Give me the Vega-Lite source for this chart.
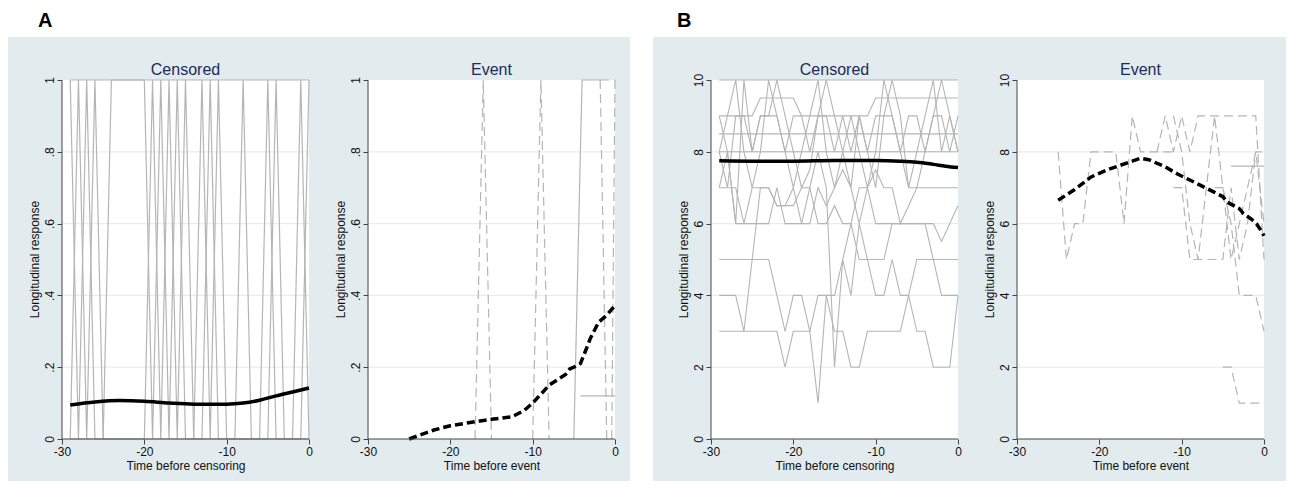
{
"$schema":"https://vega.github.io/schema/vega-lite/v6.json",
"background":"white",
"padding":{"left":8,"top":11,"right":0,"bottom":0},
"spacing":23,
"datasets":{
"a_cens":[
{"id":"s1","t":-29,"y":1},{"id":"s1","t":-28,"y":0},{"id":"s1","t":-27,"y":1},{"id":"s1","t":-26,"y":0},{"id":"s1","t":-25,"y":0},{"id":"s1","t":-24,"y":1},{"id":"s1","t":-23,"y":1},{"id":"s1","t":-22,"y":1},{"id":"s1","t":-21,"y":1},{"id":"s1","t":-20,"y":1},{"id":"s1","t":-19,"y":0},{"id":"s1","t":-18,"y":1},{"id":"s1","t":-17,"y":0},{"id":"s1","t":-16,"y":1},{"id":"s1","t":-15,"y":0},{"id":"s1","t":-14,"y":0},{"id":"s1","t":-13,"y":1},{"id":"s1","t":-12,"y":0},{"id":"s1","t":-11,"y":1},{"id":"s1","t":-10,"y":0},{"id":"s1","t":-9,"y":0},{"id":"s1","t":-8,"y":1},{"id":"s1","t":-7,"y":0},{"id":"s1","t":-6,"y":0},{"id":"s1","t":-5,"y":1},{"id":"s1","t":-4,"y":0},{"id":"s1","t":-3,"y":0},{"id":"s1","t":-2,"y":0},{"id":"s1","t":-1,"y":1},{"id":"s1","t":0,"y":0},
{"id":"s2","t":-29,"y":0},{"id":"s2","t":-28,"y":1},{"id":"s2","t":-27,"y":0},{"id":"s2","t":-26,"y":1},{"id":"s2","t":-25,"y":0},{"id":"s2","t":-24,"y":0},{"id":"s2","t":-23,"y":0},{"id":"s2","t":-22,"y":0},{"id":"s2","t":-21,"y":0},{"id":"s2","t":-20,"y":0},{"id":"s2","t":-19,"y":1},{"id":"s2","t":-18,"y":0},{"id":"s2","t":-17,"y":1},{"id":"s2","t":-16,"y":0},{"id":"s2","t":-15,"y":1},{"id":"s2","t":-14,"y":0},{"id":"s2","t":-13,"y":0},{"id":"s2","t":-12,"y":1},{"id":"s2","t":-11,"y":0},{"id":"s2","t":-10,"y":0},{"id":"s2","t":-9,"y":0},{"id":"s2","t":-8,"y":0},{"id":"s2","t":-7,"y":0},{"id":"s2","t":-6,"y":0},{"id":"s2","t":-5,"y":0},{"id":"s2","t":-4,"y":1},{"id":"s2","t":-3,"y":0},{"id":"s2","t":-2,"y":0},{"id":"s2","t":-1,"y":0},{"id":"s2","t":0,"y":1},
{"id":"s3","t":-29,"y":1},{"id":"s3","t":0,"y":1},
{"id":"s4","t":-29,"y":0},{"id":"s4","t":0,"y":0}
],
"a_cens_mean":[
{"t":-29,"y":0.095},{"t":-26,"y":0.103},{"t":-23,"y":0.107},{"t":-20,"y":0.105},{"t":-17,"y":0.1},{"t":-14,"y":0.097},{"t":-10,"y":0.097},{"t":-8,"y":0.1},{"t":-6,"y":0.108},{"t":-4,"y":0.12},{"t":-2,"y":0.131},{"t":0,"y":0.142}
],
"a_event":[
{"id":"e1","grp":"2","t":-17,"y":0},{"id":"e1","grp":"2","t":-16,"y":1},{"id":"e1","grp":"2","t":-15,"y":0},
{"id":"e2","grp":"2","t":-10,"y":0},{"id":"e2","grp":"2","t":-9,"y":1},{"id":"e2","grp":"2","t":-8,"y":0},
{"id":"e3","grp":"1","t":-5,"y":0},{"id":"e3","grp":"1","t":-4,"y":1},{"id":"e3","grp":"1","t":-1.8,"y":1},
{"id":"e4","grp":"2","t":-1.8,"y":1},{"id":"e4","grp":"2","t":-1,"y":0},
{"id":"e5","grp":"2","t":-1.8,"y":1},{"id":"e5","grp":"2","t":0,"y":1},
{"id":"e6","grp":"2","t":-0.4,"y":0},{"id":"e6","grp":"2","t":0,"y":1},
{"id":"e7","grp":"1","t":-4.2,"y":0.12},{"id":"e7","grp":"1","t":0,"y":0.12}
],
"a_event_mean":[
{"t":-25,"y":0},{"t":-22,"y":0.025},{"t":-20,"y":0.037},{"t":-17,"y":0.048},{"t":-15,"y":0.055},{"t":-12.5,"y":0.062},{"t":-11,"y":0.08},{"t":-10,"y":0.1},{"t":-9,"y":0.125},{"t":-8,"y":0.15},{"t":-7,"y":0.165},{"t":-6,"y":0.18},{"t":-5.5,"y":0.195},{"t":-5,"y":0.2},{"t":-4.2,"y":0.21},{"t":-3.5,"y":0.25},{"t":-3,"y":0.28},{"t":-2,"y":0.325},{"t":-1,"y":0.345},{"t":0,"y":0.372}
],
"b_cens":[
{"id":"u1","t":-29,"y":10},{"id":"u1","t":0,"y":10},
{"id":"u2","t":-29,"y":8.5},{"id":"u2","t":0,"y":8.5},
{"id":"u3","t":-29,"y":8},{"id":"u3","t":0,"y":8},
{"id":"u4","t":-29,"y":9},{"id":"u4","t":-25,"y":9},{"id":"u4","t":-24,"y":9.5},{"id":"u4","t":-20,"y":9.5},{"id":"u4","t":-19,"y":9},{"id":"u4","t":-11,"y":9},{"id":"u4","t":-10,"y":9.5},{"id":"u4","t":0,"y":9.5},
{"id":"z1","t":-29,"y":8},{"id":"z1","t":-28,"y":9},{"id":"z1","t":-27,"y":10},{"id":"z1","t":-26,"y":8},{"id":"z1","t":-25,"y":7},{"id":"z1","t":-24,"y":8},{"id":"z1","t":-23,"y":10},{"id":"z1","t":-22,"y":9},{"id":"z1","t":-21,"y":8},{"id":"z1","t":-20,"y":7},{"id":"z1","t":-19,"y":8},{"id":"z1","t":-18,"y":9},{"id":"z1","t":-17,"y":10},{"id":"z1","t":-16,"y":8},{"id":"z1","t":-15,"y":7},{"id":"z1","t":-14,"y":8},{"id":"z1","t":-13,"y":9},{"id":"z1","t":-12,"y":8},{"id":"z1","t":-11,"y":7},{"id":"z1","t":-10,"y":8},{"id":"z1","t":-9,"y":10},{"id":"z1","t":-8,"y":9},{"id":"z1","t":-7,"y":8},{"id":"z1","t":-6,"y":7},{"id":"z1","t":-5,"y":8},{"id":"z1","t":-4,"y":9},{"id":"z1","t":-3,"y":10},{"id":"z1","t":-2,"y":8},{"id":"z1","t":-1,"y":9},{"id":"z1","t":0,"y":8},
{"id":"z2","t":-29,"y":9},{"id":"z2","t":-28,"y":8},{"id":"z2","t":-27,"y":6},{"id":"z2","t":-26,"y":10},{"id":"z2","t":-25,"y":8},{"id":"z2","t":-24,"y":9},{"id":"z2","t":-23,"y":9},{"id":"z2","t":-22,"y":10},{"id":"z2","t":-21,"y":9},{"id":"z2","t":-20,"y":8},{"id":"z2","t":-19,"y":7},{"id":"z2","t":-18,"y":7.5},{"id":"z2","t":-17,"y":9},{"id":"z2","t":-16,"y":10},{"id":"z2","t":-15,"y":9},{"id":"z2","t":-14,"y":8},{"id":"z2","t":-13,"y":7},{"id":"z2","t":-12,"y":9},{"id":"z2","t":-11,"y":8},{"id":"z2","t":-10,"y":7},{"id":"z2","t":-9,"y":9},{"id":"z2","t":-8,"y":10},{"id":"z2","t":-7,"y":9},{"id":"z2","t":-6,"y":7},{"id":"z2","t":-5,"y":7},{"id":"z2","t":-4,"y":8},{"id":"z2","t":-3,"y":9},{"id":"z2","t":-2,"y":10},{"id":"z2","t":-1,"y":9},{"id":"z2","t":0,"y":8},
{"id":"z3","t":-29,"y":7},{"id":"z3","t":-28,"y":7},{"id":"z3","t":-27,"y":7},{"id":"z3","t":-26,"y":6},{"id":"z3","t":-25,"y":7},{"id":"z3","t":-24,"y":7},{"id":"z3","t":-23,"y":7},{"id":"z3","t":-22,"y":6.5},{"id":"z3","t":-21,"y":6.5},{"id":"z3","t":-20,"y":7},{"id":"z3","t":-19,"y":6},{"id":"z3","t":-18,"y":6},{"id":"z3","t":-17,"y":7},{"id":"z3","t":-16,"y":6.5},{"id":"z3","t":-15,"y":7},{"id":"z3","t":-14,"y":7.5},{"id":"z3","t":-13,"y":7},{"id":"z3","t":-12,"y":6},{"id":"z3","t":-11,"y":7},{"id":"z3","t":-10,"y":7.5},{"id":"z3","t":-9,"y":7},{"id":"z3","t":-8,"y":7},{"id":"z3","t":-7,"y":6},{"id":"z3","t":-6,"y":6.5},{"id":"z3","t":-5,"y":7},{"id":"z3","t":-4,"y":7},{"id":"z3","t":-3,"y":7},{"id":"z3","t":-2,"y":7},{"id":"z3","t":-1,"y":7},{"id":"z3","t":0,"y":7},
{"id":"z4","t":-29,"y":8},{"id":"z4","t":-28,"y":7},{"id":"z4","t":-27,"y":9},{"id":"z4","t":-26,"y":9},{"id":"z4","t":-25,"y":8},{"id":"z4","t":-24,"y":9},{"id":"z4","t":-23,"y":9},{"id":"z4","t":-22,"y":9},{"id":"z4","t":-21,"y":8},{"id":"z4","t":-20,"y":9},{"id":"z4","t":-19,"y":9},{"id":"z4","t":-18,"y":8},{"id":"z4","t":-17,"y":9},{"id":"z4","t":-16,"y":9},{"id":"z4","t":-15,"y":8},{"id":"z4","t":-14,"y":9},{"id":"z4","t":-13,"y":8},{"id":"z4","t":-12,"y":9},{"id":"z4","t":-11,"y":8},{"id":"z4","t":-10,"y":9},{"id":"z4","t":-9,"y":9},{"id":"z4","t":-8,"y":9},{"id":"z4","t":-7,"y":8},{"id":"z4","t":-6,"y":9},{"id":"z4","t":-5,"y":9},{"id":"z4","t":-4,"y":8},{"id":"z4","t":-3,"y":9},{"id":"z4","t":-2,"y":9},{"id":"z4","t":-1,"y":8},{"id":"z4","t":0,"y":9},
{"id":"z5","t":-29,"y":7},{"id":"z5","t":-28,"y":8},{"id":"z5","t":-27,"y":6},{"id":"z5","t":-26,"y":6},{"id":"z5","t":-25,"y":6},{"id":"z5","t":-24,"y":6},{"id":"z5","t":-23,"y":6},{"id":"z5","t":-22,"y":7},{"id":"z5","t":-21,"y":6},{"id":"z5","t":-20,"y":6},{"id":"z5","t":-19,"y":6},{"id":"z5","t":-18,"y":7},{"id":"z5","t":-17,"y":8},{"id":"z5","t":-16,"y":7},{"id":"z5","t":-15,"y":2},{"id":"z5","t":-14,"y":5},{"id":"z5","t":-13,"y":6},{"id":"z5","t":-12,"y":7},{"id":"z5","t":-11,"y":7},{"id":"z5","t":-10,"y":6},{"id":"z5","t":-9,"y":6},{"id":"z5","t":-8,"y":6},{"id":"z5","t":-7,"y":6},{"id":"z5","t":-6,"y":6},{"id":"z5","t":-5,"y":6},{"id":"z5","t":-4,"y":6},{"id":"z5","t":-3,"y":6},{"id":"z5","t":-2,"y":5.5},{"id":"z5","t":-1,"y":6},{"id":"z5","t":0,"y":6.5},
{"id":"l1","t":-29,"y":5},{"id":"l1","t":-28,"y":5},{"id":"l1","t":-27,"y":5},{"id":"l1","t":-26,"y":5},{"id":"l1","t":-25,"y":5},{"id":"l1","t":-24,"y":5},{"id":"l1","t":-23,"y":5},{"id":"l1","t":-22,"y":4},{"id":"l1","t":-21,"y":3},{"id":"l1","t":-20,"y":4},{"id":"l1","t":-19,"y":4},{"id":"l1","t":-18,"y":3},{"id":"l1","t":-17,"y":1},{"id":"l1","t":-16,"y":4},{"id":"l1","t":-15,"y":4},{"id":"l1","t":-14,"y":5},{"id":"l1","t":-13,"y":4},{"id":"l1","t":-12,"y":6},{"id":"l1","t":-11,"y":5},{"id":"l1","t":-10,"y":4},{"id":"l1","t":-9,"y":4},{"id":"l1","t":-8,"y":5},{"id":"l1","t":-7,"y":4},{"id":"l1","t":-6,"y":4},{"id":"l1","t":-5,"y":5},{"id":"l1","t":-4,"y":5},{"id":"l1","t":-3,"y":5},{"id":"l1","t":-2,"y":4},{"id":"l1","t":-1,"y":4},{"id":"l1","t":0,"y":4},
{"id":"l2","t":-29,"y":3},{"id":"l2","t":-28,"y":3},{"id":"l2","t":-27,"y":3},{"id":"l2","t":-26,"y":3},{"id":"l2","t":-25,"y":3},{"id":"l2","t":-24,"y":3},{"id":"l2","t":-23,"y":3},{"id":"l2","t":-22,"y":3},{"id":"l2","t":-21,"y":2},{"id":"l2","t":-20,"y":3},{"id":"l2","t":-19,"y":3},{"id":"l2","t":-18,"y":3},{"id":"l2","t":-17,"y":4},{"id":"l2","t":-16,"y":4},{"id":"l2","t":-15,"y":3},{"id":"l2","t":-14,"y":3},{"id":"l2","t":-13,"y":2},{"id":"l2","t":-12,"y":2},{"id":"l2","t":-11,"y":3},{"id":"l2","t":-10,"y":3},{"id":"l2","t":-9,"y":3},{"id":"l2","t":-8,"y":3},{"id":"l2","t":-7,"y":3},{"id":"l2","t":-6,"y":4},{"id":"l2","t":-5,"y":3},{"id":"l2","t":-4,"y":3},{"id":"l2","t":-3,"y":2},{"id":"l2","t":-2,"y":2},{"id":"l2","t":-1,"y":2},{"id":"l2","t":0,"y":4},
{"id":"l3","t":-29,"y":4},{"id":"l3","t":-28,"y":4},{"id":"l3","t":-27,"y":4},{"id":"l3","t":-26,"y":3},{"id":"l3","t":-25,"y":5},{"id":"l3","t":-24,"y":7},{"id":"l3","t":-23,"y":7},{"id":"l3","t":-22,"y":6.5},{"id":"l3","t":-21,"y":6.5},{"id":"l3","t":-20,"y":6.5},{"id":"l3","t":-19,"y":7},{"id":"l3","t":-18,"y":7},{"id":"l3","t":-17,"y":6},{"id":"l3","t":-16,"y":6},{"id":"l3","t":-15,"y":6.5},{"id":"l3","t":-14,"y":6},{"id":"l3","t":-13,"y":6},{"id":"l3","t":-12,"y":5},{"id":"l3","t":-11,"y":5},{"id":"l3","t":-10,"y":5},{"id":"l3","t":-9,"y":5},{"id":"l3","t":-8,"y":6},{"id":"l3","t":-7,"y":6},{"id":"l3","t":-6,"y":6},{"id":"l3","t":-5,"y":6},{"id":"l3","t":-4,"y":6},{"id":"l3","t":-3,"y":5},{"id":"l3","t":-2,"y":5},{"id":"l3","t":-1,"y":5},{"id":"l3","t":0,"y":5}
],
"b_cens_mean":[
{"t":-29,"y":7.75},{"t":-25,"y":7.74},{"t":-20,"y":7.74},{"t":-15,"y":7.76},{"t":-10,"y":7.76},{"t":-7,"y":7.74},{"t":-5,"y":7.71},{"t":-3,"y":7.65},{"t":-1.5,"y":7.6},{"t":0,"y":7.56}
],
"b_event":[
{"id":"f1","grp":"2","t":-25,"y":8},{"id":"f1","grp":"2","t":-24,"y":5},{"id":"f1","grp":"2","t":-23,"y":6},{"id":"f1","grp":"2","t":-22,"y":6},{"id":"f1","grp":"2","t":-21,"y":8},{"id":"f1","grp":"2","t":-20,"y":8},{"id":"f1","grp":"2","t":-19,"y":8},{"id":"f1","grp":"2","t":-18,"y":8},{"id":"f1","grp":"2","t":-17,"y":6},{"id":"f1","grp":"2","t":-16,"y":9},{"id":"f1","grp":"2","t":-15,"y":8},{"id":"f1","grp":"2","t":-14,"y":8},{"id":"f1","grp":"2","t":-13,"y":8},{"id":"f1","grp":"2","t":-12,"y":8},{"id":"f1","grp":"2","t":-11,"y":8},
{"id":"f2","grp":"2","t":-13,"y":8},{"id":"f2","grp":"2","t":-12,"y":9},{"id":"f2","grp":"2","t":-11,"y":8},{"id":"f2","grp":"2","t":-10,"y":9},{"id":"f2","grp":"2","t":-9,"y":8},{"id":"f2","grp":"2","t":-8,"y":9},{"id":"f2","grp":"2","t":-7,"y":9},{"id":"f2","grp":"2","t":-6,"y":9},{"id":"f2","grp":"2","t":-5,"y":9},{"id":"f2","grp":"2","t":-4,"y":9},{"id":"f2","grp":"2","t":-3,"y":9},{"id":"f2","grp":"2","t":-2,"y":9},{"id":"f2","grp":"2","t":-1,"y":9},{"id":"f2","grp":"2","t":0,"y":5},
{"id":"f3","grp":"2","t":-11,"y":7},{"id":"f3","grp":"2","t":-10,"y":7},{"id":"f3","grp":"2","t":-9,"y":5},{"id":"f3","grp":"2","t":-8,"y":5},{"id":"f3","grp":"2","t":-7,"y":5},{"id":"f3","grp":"2","t":-6,"y":5},{"id":"f3","grp":"2","t":-5,"y":5},{"id":"f3","grp":"2","t":-4,"y":7},{"id":"f3","grp":"2","t":-3,"y":5},{"id":"f3","grp":"2","t":-2,"y":6},{"id":"f3","grp":"2","t":-1,"y":8},{"id":"f3","grp":"2","t":0,"y":8},
{"id":"f4","grp":"2","t":-11,"y":9},{"id":"f4","grp":"2","t":-10,"y":8},{"id":"f4","grp":"2","t":-9,"y":6},{"id":"f4","grp":"2","t":-8,"y":5},{"id":"f4","grp":"2","t":-7,"y":7},{"id":"f4","grp":"2","t":-6,"y":9},{"id":"f4","grp":"2","t":-5,"y":7},{"id":"f4","grp":"2","t":-4,"y":6},{"id":"f4","grp":"2","t":-3,"y":4},{"id":"f4","grp":"2","t":-2,"y":4},{"id":"f4","grp":"2","t":-1,"y":4},{"id":"f4","grp":"2","t":0,"y":3},
{"id":"f5","grp":"2","t":-5,"y":2},{"id":"f5","grp":"2","t":-4,"y":2},{"id":"f5","grp":"2","t":-3,"y":1},{"id":"f5","grp":"2","t":-2,"y":1},{"id":"f5","grp":"2","t":-1,"y":1},{"id":"f5","grp":"2","t":0,"y":1},
{"id":"f6","grp":"1","t":-4,"y":7.6},{"id":"f6","grp":"1","t":0,"y":7.6},
{"id":"f7","grp":"2","t":-6,"y":7},{"id":"f7","grp":"2","t":-5,"y":7},{"id":"f7","grp":"2","t":-4,"y":5},{"id":"f7","grp":"2","t":-3,"y":6},{"id":"f7","grp":"2","t":-2,"y":7},{"id":"f7","grp":"2","t":-1,"y":8},{"id":"f7","grp":"2","t":0,"y":6}
],
"b_event_mean":[
{"t":-25,"y":6.65},{"t":-23,"y":6.95},{"t":-21,"y":7.3},{"t":-19,"y":7.5},{"t":-17.5,"y":7.62},{"t":-16,"y":7.74},{"t":-15,"y":7.82},{"t":-14,"y":7.78},{"t":-12,"y":7.58},{"t":-10.5,"y":7.38},{"t":-8,"y":7.1},{"t":-6,"y":6.87},{"t":-5,"y":6.75},{"t":-4.5,"y":6.6},{"t":-3,"y":6.42},{"t":-2.5,"y":6.28},{"t":-1.5,"y":6.12},{"t":-0.9,"y":5.99},{"t":-0.4,"y":5.82},{"t":0,"y":5.66}
]
},
"config":{
"font":"Liberation Sans",
"view":{"stroke":null},
"axis":{"domain":false,"grid":false,"tickSize":5,"tickColor":"#444444","tickWidth":1,"labelFont":"Liberation Sans","labelFontSize":12,"labelColor":"#111111","labelFlush":false,"labelBound":false,"labelOverlap":false,"titleFont":"Liberation Sans","titleFontSize":12,"titleFontWeight":"normal","titleColor":"#111111","minExtent":0},
"axisX":{"labelPadding":2,"titleY":21,"titleBaseline":"top","titleAlign":"center"},
"axisY":{"labelAngle":-90,"labelAlign":"center","labelBaseline":"bottom","labelPadding":1,"titlePadding":2}
},
"hconcat":[
{"title":{"text":"A","anchor":"start","dx":30,"fontSize":20,"fontWeight":"bold","font":"Liberation Sans","color":"#000000","offset":6},
 "spacing":0,
 "hconcat":[
  {"width":326,"height":444,"view":{"fill":"#e2ebee","stroke":null},
   "layer":[
    {"data":{"values":[{}]},"mark":{"type":"rect","fill":"white"},
     "encoding":{
      "x":{"datum":-30,"type":"quantitative","scale":{"domain":[-36.5587,3.0364],"nice":false,"zero":false},"axis":{"values":[-30,-20,-10,0],"offset":-42,"labelExpr":"'' + datum.value","title":"Time before censoring","titleX":177.5}},
      "x2":{"datum":0},
      "y":{"datum":0,"type":"quantitative","scale":{"domain":[-0.11699,1.11978],"nice":false,"zero":false},"axis":{"values":[0,0.2,0.4,0.6,0.8,1],"offset":-54,"labelExpr":"datum.value == 0 ? '0' : datum.value == 1 ? '1' : '.' + round(datum.value * 10)","title":"Longitudinal response"}},
      "y2":{"datum":1}}},
    {"data":{"values":[{"g":0.2},{"g":0.4},{"g":0.6},{"g":0.8}]},"mark":{"type":"rule","color":"#e6edf0","strokeWidth":1.2},
     "encoding":{"y":{"field":"g","type":"quantitative","scale":{"domain":[-0.11699,1.11978],"nice":false,"zero":false}},"x":{"datum":-30,"type":"quantitative","scale":{"domain":[-36.5587,3.0364],"nice":false,"zero":false}},"x2":{"datum":0}}},
    {"data":{"name":"a_cens"},"mark":{"type":"line","color":"#b5b5b5","strokeWidth":1.2},
     "encoding":{"x":{"field":"t","type":"quantitative","scale":{"domain":[-36.5587,3.0364],"nice":false,"zero":false}},"y":{"field":"y","type":"quantitative","scale":{"domain":[-0.11699,1.11978],"nice":false,"zero":false}},"detail":{"field":"id"}}},
    {"data":{"name":"a_cens_mean"},"mark":{"type":"line","color":"#000000","strokeWidth":3.5,"interpolate":"monotone"},
     "encoding":{"x":{"field":"t","type":"quantitative","scale":{"domain":[-36.5587,3.0364],"nice":false,"zero":false}},"y":{"field":"y","type":"quantitative","scale":{"domain":[-0.11699,1.11978],"nice":false,"zero":false}}}},
    {"data":{"values":[{}]},"mark":{"type":"rule","color":"#444444","strokeWidth":1},
     "encoding":{"x":{"datum":-30,"type":"quantitative","scale":{"domain":[-36.5587,3.0364],"nice":false,"zero":false}},"x2":{"datum":0},"y":{"datum":0,"type":"quantitative","scale":{"domain":[-0.11699,1.11978],"nice":false,"zero":false}}}},
    {"data":{"values":[{}]},"mark":{"type":"rule","color":"#444444","strokeWidth":1},
     "encoding":{"x":{"datum":-30,"type":"quantitative","scale":{"domain":[-36.5587,3.0364],"nice":false,"zero":false}},"y":{"datum":0,"type":"quantitative","scale":{"domain":[-0.11699,1.11978],"nice":false,"zero":false}},"y2":{"datum":1}}},
    {"data":{"values":[{}]},"mark":{"type":"text","text":"Censored","fontSize":16,"color":"#1e2a5a","align":"center","baseline":"alphabetic"},
     "encoding":{"x":{"datum":-15,"type":"quantitative","scale":{"domain":[-36.5587,3.0364],"nice":false,"zero":false}},"y":{"datum":1.0139,"type":"quantitative","scale":{"domain":[-0.11699,1.11978],"nice":false,"zero":false}}}}
   ]},
  {"width":296,"height":444,"view":{"fill":"#e2ebee","stroke":null},
   "layer":[
    {"data":{"values":[{}]},"mark":{"type":"rect","fill":"white"},
     "encoding":{
      "x":{"datum":-30,"type":"quantitative","scale":{"domain":[-34.1296,1.8219],"nice":false,"zero":false},"axis":{"values":[-30,-20,-10,0],"offset":-42,"labelExpr":"'' + datum.value","title":"Time before event","titleX":157.5}},
      "x2":{"datum":0},
      "y":{"datum":0,"type":"quantitative","scale":{"domain":[-0.11699,1.11978],"nice":false,"zero":false},"axis":{"values":[0,0.2,0.4,0.6,0.8,1],"offset":-34,"labelExpr":"datum.value == 0 ? '0' : datum.value == 1 ? '1' : '.' + round(datum.value * 10)","title":"Longitudinal response"}},
      "y2":{"datum":1}}},
    {"data":{"values":[{"g":0.2},{"g":0.4},{"g":0.6},{"g":0.8}]},"mark":{"type":"rule","color":"#e6edf0","strokeWidth":1.2},
     "encoding":{"y":{"field":"g","type":"quantitative","scale":{"domain":[-0.11699,1.11978],"nice":false,"zero":false}},"x":{"datum":-30,"type":"quantitative","scale":{"domain":[-34.1296,1.8219],"nice":false,"zero":false}},"x2":{"datum":0}}},
    {"data":{"name":"a_event"},"mark":{"type":"line","color":"#b5b5b5","strokeWidth":1.2},
     "encoding":{"x":{"field":"t","type":"quantitative","scale":{"domain":[-34.1296,1.8219],"nice":false,"zero":false}},"y":{"field":"y","type":"quantitative","scale":{"domain":[-0.11699,1.11978],"nice":false,"zero":false}},"detail":{"field":"id"},"strokeDash":{"field":"grp","type":"nominal","scale":{"domain":["1","2"],"range":[[1,0],[9,5]]},"legend":null}}},
    {"data":{"name":"a_event_mean"},"mark":{"type":"line","color":"#000000","strokeWidth":3.5,"strokeDash":[8,4]},
     "encoding":{"x":{"field":"t","type":"quantitative","scale":{"domain":[-34.1296,1.8219],"nice":false,"zero":false}},"y":{"field":"y","type":"quantitative","scale":{"domain":[-0.11699,1.11978],"nice":false,"zero":false}}}},
    {"data":{"values":[{}]},"mark":{"type":"rule","color":"#444444","strokeWidth":1},
     "encoding":{"x":{"datum":-30,"type":"quantitative","scale":{"domain":[-34.1296,1.8219],"nice":false,"zero":false}},"x2":{"datum":0},"y":{"datum":0,"type":"quantitative","scale":{"domain":[-0.11699,1.11978],"nice":false,"zero":false}}}},
    {"data":{"values":[{}]},"mark":{"type":"rule","color":"#444444","strokeWidth":1},
     "encoding":{"x":{"datum":-30,"type":"quantitative","scale":{"domain":[-34.1296,1.8219],"nice":false,"zero":false}},"y":{"datum":0,"type":"quantitative","scale":{"domain":[-0.11699,1.11978],"nice":false,"zero":false}},"y2":{"datum":1}}},
    {"data":{"values":[{}]},"mark":{"type":"text","text":"Event","fontSize":16,"color":"#1e2a5a","align":"center","baseline":"alphabetic"},
     "encoding":{"x":{"datum":-15,"type":"quantitative","scale":{"domain":[-34.1296,1.8219],"nice":false,"zero":false}},"y":{"datum":1.0139,"type":"quantitative","scale":{"domain":[-0.11699,1.11978],"nice":false,"zero":false}}}}
   ]}
 ]},
{"title":{"text":"B","anchor":"start","dx":24,"fontSize":20,"fontWeight":"bold","font":"Liberation Sans","color":"#000000","offset":6},
 "spacing":0,
 "hconcat":[
  {"width":328,"height":444,"view":{"fill":"#e2ebee","stroke":null},
   "layer":[
    {"data":{"values":[{}]},"mark":{"type":"rect","fill":"white"},
     "encoding":{
      "x":{"datum":-30,"type":"quantitative","scale":{"domain":[-37.0445,2.7935],"nice":false,"zero":false},"axis":{"values":[-30,-20,-10,0],"offset":-42,"labelExpr":"'' + datum.value","title":"Time before censoring","titleX":181.5}},
      "x2":{"datum":0},
      "y":{"datum":0,"type":"quantitative","scale":{"domain":[-1.1699,11.1978],"nice":false,"zero":false},"axis":{"values":[0,2,4,6,8,10],"offset":-58,"labelExpr":"'' + datum.value","title":"Longitudinal response"}},
      "y2":{"datum":10}}},
    {"data":{"values":[{"g":2},{"g":4},{"g":6},{"g":8}]},"mark":{"type":"rule","color":"#e6edf0","strokeWidth":1.2},
     "encoding":{"y":{"field":"g","type":"quantitative","scale":{"domain":[-1.1699,11.1978],"nice":false,"zero":false}},"x":{"datum":-30,"type":"quantitative","scale":{"domain":[-37.0445,2.7935],"nice":false,"zero":false}},"x2":{"datum":0}}},
    {"data":{"name":"b_cens"},"mark":{"type":"line","color":"#b5b5b5","strokeWidth":1.1},
     "encoding":{"x":{"field":"t","type":"quantitative","scale":{"domain":[-37.0445,2.7935],"nice":false,"zero":false}},"y":{"field":"y","type":"quantitative","scale":{"domain":[-1.1699,11.1978],"nice":false,"zero":false}},"detail":{"field":"id"}}},
    {"data":{"name":"b_cens_mean"},"mark":{"type":"line","color":"#000000","strokeWidth":3.5,"interpolate":"monotone"},
     "encoding":{"x":{"field":"t","type":"quantitative","scale":{"domain":[-37.0445,2.7935],"nice":false,"zero":false}},"y":{"field":"y","type":"quantitative","scale":{"domain":[-1.1699,11.1978],"nice":false,"zero":false}}}},
    {"data":{"values":[{}]},"mark":{"type":"rule","color":"#444444","strokeWidth":1},
     "encoding":{"x":{"datum":-30,"type":"quantitative","scale":{"domain":[-37.0445,2.7935],"nice":false,"zero":false}},"x2":{"datum":0},"y":{"datum":0,"type":"quantitative","scale":{"domain":[-1.1699,11.1978],"nice":false,"zero":false}}}},
    {"data":{"values":[{}]},"mark":{"type":"rule","color":"#444444","strokeWidth":1},
     "encoding":{"x":{"datum":-30,"type":"quantitative","scale":{"domain":[-37.0445,2.7935],"nice":false,"zero":false}},"y":{"datum":0,"type":"quantitative","scale":{"domain":[-1.1699,11.1978],"nice":false,"zero":false}},"y2":{"datum":10}}},
    {"data":{"values":[{}]},"mark":{"type":"text","text":"Censored","fontSize":16,"color":"#1e2a5a","align":"center","baseline":"alphabetic"},
     "encoding":{"x":{"datum":-15,"type":"quantitative","scale":{"domain":[-37.0445,2.7935],"nice":false,"zero":false}},"y":{"datum":10.139,"type":"quantitative","scale":{"domain":[-1.1699,11.1978],"nice":false,"zero":false}}}}
   ]},
  {"width":305,"height":444,"view":{"fill":"#e2ebee","stroke":null},
   "layer":[
    {"data":{"values":[{}]},"mark":{"type":"rect","fill":"white"},
     "encoding":{
      "x":{"datum":-30,"type":"quantitative","scale":{"domain":[-34.3725,2.6721],"nice":false,"zero":false},"axis":{"values":[-30,-20,-10,0],"offset":-42,"labelExpr":"'' + datum.value","title":"Time before event","titleX":159.5}},
      "x2":{"datum":0},
      "y":{"datum":0,"type":"quantitative","scale":{"domain":[-1.1699,11.1978],"nice":false,"zero":false},"axis":{"values":[0,2,4,6,8,10],"offset":-36,"labelExpr":"'' + datum.value","title":"Longitudinal response"}},
      "y2":{"datum":10}}},
    {"data":{"values":[{"g":2},{"g":4},{"g":6},{"g":8}]},"mark":{"type":"rule","color":"#e6edf0","strokeWidth":1.2},
     "encoding":{"y":{"field":"g","type":"quantitative","scale":{"domain":[-1.1699,11.1978],"nice":false,"zero":false}},"x":{"datum":-30,"type":"quantitative","scale":{"domain":[-34.3725,2.6721],"nice":false,"zero":false}},"x2":{"datum":0}}},
    {"data":{"name":"b_event"},"mark":{"type":"line","color":"#b5b5b5","strokeWidth":1.2},
     "encoding":{"x":{"field":"t","type":"quantitative","scale":{"domain":[-34.3725,2.6721],"nice":false,"zero":false}},"y":{"field":"y","type":"quantitative","scale":{"domain":[-1.1699,11.1978],"nice":false,"zero":false}},"detail":{"field":"id"},"strokeDash":{"field":"grp","type":"nominal","scale":{"domain":["1","2"],"range":[[1,0],[9,5]]},"legend":null}}},
    {"data":{"name":"b_event_mean"},"mark":{"type":"line","color":"#000000","strokeWidth":3.5,"strokeDash":[8,4]},
     "encoding":{"x":{"field":"t","type":"quantitative","scale":{"domain":[-34.3725,2.6721],"nice":false,"zero":false}},"y":{"field":"y","type":"quantitative","scale":{"domain":[-1.1699,11.1978],"nice":false,"zero":false}}}},
    {"data":{"values":[{}]},"mark":{"type":"rule","color":"#444444","strokeWidth":1},
     "encoding":{"x":{"datum":-30,"type":"quantitative","scale":{"domain":[-34.3725,2.6721],"nice":false,"zero":false}},"x2":{"datum":0},"y":{"datum":0,"type":"quantitative","scale":{"domain":[-1.1699,11.1978],"nice":false,"zero":false}}}},
    {"data":{"values":[{}]},"mark":{"type":"rule","color":"#444444","strokeWidth":1},
     "encoding":{"x":{"datum":-30,"type":"quantitative","scale":{"domain":[-34.3725,2.6721],"nice":false,"zero":false}},"y":{"datum":0,"type":"quantitative","scale":{"domain":[-1.1699,11.1978],"nice":false,"zero":false}},"y2":{"datum":10}}},
    {"data":{"values":[{}]},"mark":{"type":"text","text":"Event","fontSize":16,"color":"#1e2a5a","align":"center","baseline":"alphabetic"},
     "encoding":{"x":{"datum":-15,"type":"quantitative","scale":{"domain":[-34.3725,2.6721],"nice":false,"zero":false}},"y":{"datum":10.139,"type":"quantitative","scale":{"domain":[-1.1699,11.1978],"nice":false,"zero":false}}}}
   ]}
 ]}
]
}
